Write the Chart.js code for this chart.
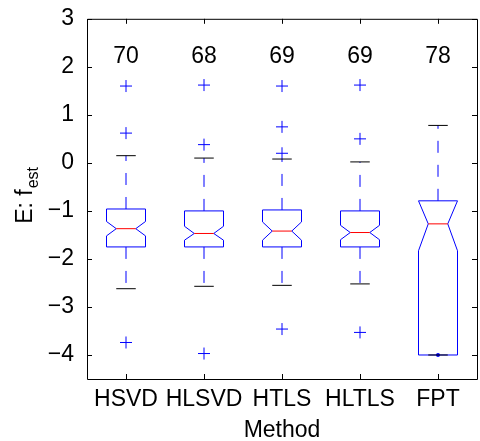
<!DOCTYPE html>
<html>
<head>
<meta charset="utf-8">
<script src="https://cdn.jsdelivr.net/npm/chart.js@4.4.1/dist/chart.umd.min.js"></script>
<style>
  html, body { margin: 0; padding: 0; overflow: hidden; background: #fff; }
</style>
</head>
<body>
<canvas id="chart1" width="484" height="441"></canvas>
<script>
const methods = ['HSVD', 'HLSVD', 'HTLS', 'HLTLS', 'FPT'];
const counts = [70, 68, 69, 69, 78];
const upperWhisker = [0.15, 0.10, 0.08, 0.02, 0.78];
const q3 = [-0.96, -1.00, -0.98, -1.00, -0.79];
const notchHi = [-1.22, -1.32, -1.23, -1.30, -0.79];
const medians = [-1.37, -1.47, -1.42, -1.45, -1.27];
const notchLo = [-1.52, -1.61, -1.61, -1.60, -1.83];
const q1 = [-1.75, -1.75, -1.75, -1.75, -4.00];
const lowerWhisker = [-2.62, -2.57, -2.55, -2.52, -4.00];
const outliers = [
  [1.60, 0.62, -3.74],
  [1.62, 0.38, -3.97],
  [1.60, 0.75, 0.20, -3.46],
  [1.62, 0.50, -3.53],
  []
];
const fptMarker = [-4.00];
const yTicks = [-4, -3, -2, -1, 0, 1, 2, 3];
const countLevel = 2.22;

const FONT = '"Liberation Sans", Arial, Helvetica, sans-serif';
const FS = 23;

const outlierPoints = [];
outliers.forEach(function (vals, i) {
  vals.forEach(function (v) { outlierPoints.push({x: i + 1, y: v}); });
});

// boxes, whiskers, notches, frame and inward ticks
const boxPlugin = {
  id: 'boxes',
  afterDatasetsDraw(chart) {
    const ctx = chart.ctx;
    const xs = chart.scales.x;
    const ys = chart.scales.y;
    const ca = chart.chartArea;
    const half = xs.getPixelForValue(1.25) - xs.getPixelForValue(1);
    ctx.save();
    ctx.beginPath();
    ctx.rect(ca.left, ca.top, ca.right - ca.left, ca.bottom - ca.top);
    ctx.clip();
    ctx.lineWidth = 1;
    methods.forEach(function (m, i) {
      const cx = xs.getPixelForValue(i + 1);
      const Y = function (v) { return ys.getPixelForValue(v); };

      // dashed whiskers
      ctx.strokeStyle = '#0000ff';
      ctx.setLineDash([12, 12]);
      ctx.beginPath();
      ctx.moveTo(cx, Y(q3[i]));
      ctx.lineTo(cx, Y(upperWhisker[i]));
      ctx.moveTo(cx, Y(q1[i]));
      ctx.lineTo(cx, Y(lowerWhisker[i]));
      ctx.stroke();
      ctx.setLineDash([]);

      // notched box
      ctx.beginPath();
      ctx.moveTo(cx - half, Y(q1[i]));
      ctx.lineTo(cx - half, Y(notchLo[i]));
      ctx.lineTo(cx - half / 2, Y(medians[i]));
      ctx.lineTo(cx - half, Y(notchHi[i]));
      ctx.lineTo(cx - half, Y(q3[i]));
      ctx.lineTo(cx + half, Y(q3[i]));
      ctx.lineTo(cx + half, Y(notchHi[i]));
      ctx.lineTo(cx + half / 2, Y(medians[i]));
      ctx.lineTo(cx + half, Y(notchLo[i]));
      ctx.lineTo(cx + half, Y(q1[i]));
      ctx.closePath();
      ctx.stroke();

      // median
      ctx.strokeStyle = '#ff0000';
      ctx.beginPath();
      ctx.moveTo(cx - half / 2, Y(medians[i]));
      ctx.lineTo(cx + half / 2, Y(medians[i]));
      ctx.stroke();

      // whisker caps
      ctx.strokeStyle = '#000000';
      ctx.beginPath();
      ctx.moveTo(cx - half / 2, Y(upperWhisker[i]));
      ctx.lineTo(cx + half / 2, Y(upperWhisker[i]));
      ctx.moveTo(cx - half / 2, Y(lowerWhisker[i]));
      ctx.lineTo(cx + half / 2, Y(lowerWhisker[i]));
      ctx.stroke();

      // sample counts
      ctx.fillStyle = '#000';
      ctx.font = FS + 'px ' + FONT;
      ctx.textAlign = 'center';
      ctx.textBaseline = 'middle';
      ctx.fillText(String(counts[i]), cx, Y(countLevel));
    });
    ctx.restore();
  },
  afterDraw(chart) {
    const ctx = chart.ctx;
    const xs = chart.scales.x;
    const ys = chart.scales.y;
    const ca = chart.chartArea;
    const tl = 5;
    ctx.save();
    ctx.strokeStyle = '#000';
    ctx.lineWidth = 1;
    ctx.beginPath();
    ctx.rect(ca.left + 0.5, ca.top + 0.5, ca.right - ca.left, ca.bottom - ca.top);
    ys.ticks.forEach(function (t) {
      const y = Math.round(ys.getPixelForValue(t.value)) + 0.5;
      ctx.moveTo(ca.left, y); ctx.lineTo(ca.left + tl, y);
      ctx.moveTo(ca.right, y); ctx.lineTo(ca.right - tl, y);
    });
    xs.ticks.forEach(function (t) {
      const x = Math.round(xs.getPixelForValue(t.value)) + 0.5;
      ctx.moveTo(x, ca.bottom); ctx.lineTo(x, ca.bottom - tl);
      ctx.moveTo(x, ca.top); ctx.lineTo(x, ca.top + tl);
    });
    ctx.stroke();

    // y label with subscript
    const mid = (ca.top + ca.bottom) / 2 - 3;
    ctx.translate(32, mid);
    ctx.rotate(-Math.PI / 2);
    ctx.fillStyle = '#000';
    ctx.textBaseline = 'alphabetic';
    ctx.textAlign = 'left';
    ctx.font = FS + 'px ' + FONT;
    const main = 'E: f';
    const wMain = ctx.measureText(main).width;
    ctx.font = '16px ' + FONT;
    const wSub = ctx.measureText('est').width;
    const x0 = -(wMain + wSub) / 2;
    ctx.font = FS + 'px ' + FONT;
    ctx.fillText(main, x0, 0);
    ctx.font = '16px ' + FONT;
    ctx.fillText('est', x0 + wMain + 1, 6);
    ctx.restore();
  }
};

const data = {
  datasets: [{
    label: 'outliers',
    data: outlierPoints,
    pointStyle: 'cross',
    radius: 6,
    borderColor: '#0000ff',
    borderWidth: 1
  }, {
    label: 'FPT',
    data: fptMarker.map(function (v) { return {x: 5, y: v}; }),
    pointStyle: 'circle',
    radius: 2,
    backgroundColor: '#0000ff',
    borderColor: '#0000ff',
    borderWidth: 0
  }]
};

const config = {
  type: 'scatter',
  data: data,
  options: {
    responsive: false,
    animation: false,
    layout: {
      padding: {top: 15, right: 1, left: 0, bottom: 0}
    },
    scales: {
      x: {
        type: 'linear',
        min: 0.5,
        max: 5.5,
        afterBuildTicks: function (s) {
          s.ticks = methods.map(function (m, i) { return {value: i + 1}; });
        },
        afterFit: function (s) { s.height = 62; },
        grid: {display: false},
        border: {display: false},
        ticks: {
          color: '#000',
          padding: -1,
          maxRotation: 0,
          autoSkip: false,
          font: {family: FONT, size: FS},
          callback: function (v) { return methods[v - 1]; }
        },
        title: {
          display: true,
          text: 'Method',
          color: '#000',
          padding: {top: 0, bottom: -3},
          font: {family: FONT, size: FS}
        }
      },
      y: {
        min: -4.5,
        max: 3,
        afterBuildTicks: function (s) {
          s.ticks = yTicks.map(function (v) { return {value: v}; });
        },
        afterFit: function (s) { s.width = 87; },
        grid: {display: false},
        border: {display: false},
        ticks: {
          color: '#000',
          padding: 5,
          font: {family: FONT, size: FS},
          callback: function (v) { return String(v).replace('-', '\u2212'); }
        }
      }
    },
    plugins: {
      legend: {display: false},
      tooltip: {enabled: false}
    }
  },
  plugins: [boxPlugin]
};

var myChart = new Chart(
  document.getElementById('chart1'),
  config
);
</script>
</body>
</html>
